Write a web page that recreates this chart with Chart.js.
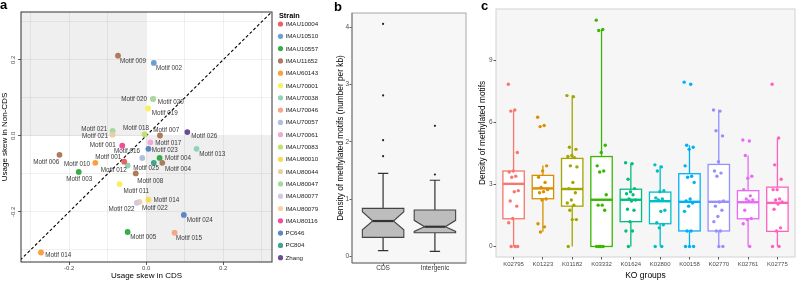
<!DOCTYPE html>
<html><head><meta charset="utf-8">
<script src="https://cdn.jsdelivr.net/npm/chart.js@4.4.1/dist/chart.umd.min.js"></script>
<style>
html,body{margin:0;padding:0;background:#fff;width:799px;height:281px;overflow:hidden;}
.wrap{position:absolute;top:0;height:281px;}
canvas{display:block;}
.tag{position:absolute;font-weight:bold;font-size:13px;line-height:13px;color:#000;font-family:"Liberation Sans",Arial,sans-serif;}
</style></head><body>
<div class="wrap" style="left:0;width:330px"><canvas id="ca" width="330" height="281"></canvas></div>
<div class="wrap" style="left:330px;width:140px"><canvas id="cb" width="140" height="281"></canvas></div>
<div class="wrap" style="left:470px;width:329px"><canvas id="cc" width="329" height="281"></canvas></div>
<div class="tag" style="left:0px;top:-2px">a</div>
<div class="tag" style="left:334px;top:0px">b</div>
<div class="tag" style="left:481px;top:-1px">c</div>
<script>
// ---------------- Panel a data ----------------
const strains = ['IMAU10004','IMAU10510','IMAU10557','IMAU11652','IMAU60143','IMAU70001','IMAU70038','IMAU70046','IMAU70057','IMAU70061','IMAU70083','IMAU80010','IMAU80044','IMAU80047','IMAU80077','IMAU80079','IMAU80116','PC646','PC804','Zhang'];
const strainColors = ['#e9625c','#6c9fd2','#3aab4b','#b07a5c','#f9a03f','#f9f05d','#8fd3b8','#f7a789','#aebfe0','#f1a8d6','#bde26e','#f9da55','#e8cfa5','#a5d99d','#d4c6e4','#fbcfa1','#ee4e9d','#5c86c6','#3da889','#6d4a92'];
const motifNames = ['Motif 009','Motif 002','Motif 020','Motif 020','Motif 019','Motif 021','Motif 021','Motif 018','Motif 007','Motif 026','Motif 001','Motif 017','Motif 016','Motif 023','Motif 004','Motif 004','Motif 025','Motif 013','Motif 006','Motif 010','Motif 001','Motif 012','Motif 003','Motif 008','Motif 011','Motif 014','Motif 022','Motif 022','Motif 024','Motif 005','Motif 015','Motif 014'];
const motifStrain = ['IMAU11652','IMAU10510','IMAU80047','IMAU80079','IMAU70001','IMAU80047','IMAU80044','IMAU70083','IMAU11652','Zhang','IMAU80116','IMAU70061','IMAU70057','PC646','IMAU10557','IMAU11652','PC804','IMAU70038','IMAU11652','IMAU60143','IMAU10004','IMAU70038','IMAU10557','IMAU11652','IMAU70001','IMAU80010','IMAU80077','IMAU80079','PC646','IMAU10557','IMAU70046','IMAU60143'];
const skewCDS = [-0.073,0.020,0.018,0.018,0.005,-0.087,-0.087,-0.004,0.036,0.107,-0.062,0.011,-0.010,0.006,0.035,0.042,0.020,0.131,-0.225,-0.132,-0.057,-0.048,-0.175,-0.027,-0.069,0.006,-0.024,-0.017,0.098,-0.048,0.074,-0.273];
const skewNonCDS = [0.211,0.192,0.097,0.097,0.072,0.013,0.003,0.004,0.001,0.010,-0.026,-0.017,-0.058,-0.034,-0.058,-0.071,-0.071,-0.034,-0.050,-0.071,-0.068,-0.078,-0.095,-0.099,-0.127,-0.168,-0.176,-0.174,-0.208,-0.253,-0.255,-0.307];
// label placement (pixel nudge from the point, text alignment)
const labelNudge = [[2,5.3,'left'],[2.3,5.7,'left'],[-6,0.3,'right'],[4.7,3,'left'],[3.7,4.3,'left'],[-5.4,-1.7,'right'],[-4.7,1.7,'right'],[4.4,-6,'right'],[-6.7,-5.7,'left'],[4,4.4,'left'],[-6.6,0,'right'],[5,1.4,'left'],[-2.3,-7,'right'],[3.4,1.7,'left'],[5.4,0,'left'],[2.7,6.3,'left'],[5.3,5.7,'right'],[2.7,5.3,'left'],[-0.3,7.3,'right'],[-5.3,1.3,'right'],[-3,-4.7,'right'],[-1,4.6,'right'],[0.5,7.3,'center'],[1.6,7.6,'left'],[4,6.7,'left'],[5,0.3,'left'],[-2.4,7,'right'],[2.4,6.4,'left'],[3,5,'left'],[2.6,5.4,'left'],[1.4,5.7,'left'],[4.3,3,'left']];
const aTicks = [-0.3,-0.2,-0.1,0,0.1,0.2,0.3];

// ---------------- Panel b data ----------------
const bGroups = ['CDS','Intergenic'];
const bWhiskerLow = [0.10,0.087];
const bQ1 = [0.332,0.414];
const bNotchLow = [0.466,0.436];
const bMedian = [0.618,0.518];
const bNotchHigh = [0.78,0.63];
const bQ3 = [0.838,0.81];
const bWhiskerHigh = [1.45,1.33];
const cdsOutliers = [1.75,2.03,2.81,4.06];
const intergenicOutliers = [1.43,2.28];
const bYTicks = [0,1,2,3,4];

// ---------------- Panel c data ----------------
const koGroups = ['K02795','K01223','K01182','K03332','K01624','K02800','K00158','K02770','K02761','K02775'];
const koColors = ['#F8766D','#D89000','#A3A500','#39B600','#00BF7D','#00BFC4','#00B0F6','#9590FF','#E76BF3','#FF62BC'];
const koQ1 = [1.34,2.31,1.95,0,1.2,1.1,0.75,0.75,1.34,0.73];
const koMedian = [3.03,2.81,2.78,2.26,2.26,2.19,2.16,2.16,2.14,2.11];
const koQ3 = [3.65,3.44,4.26,4.35,2.77,2.63,3.52,3.97,2.7,2.87];
const koWhiskerLow = [0,0.71,0,0,0,0,0,0,0,0];
const koWhiskerHigh = [6.58,3.92,7.3,10.5,4.02,3.92,4.9,6.62,4.4,5.24];
const K02795 = [7.85,6.6,6.55,4.55,3.65,3.6,3.4,3.35,2.7,2.65,2.2,1.95,1.35,1.15,0,0,0];
const K01223 = [6.25,5.85,5.8,3.9,3.65,3.35,3.1,2.85,2.75,2.65,2.6,2.3,2.25,1.1,0.95,0.7];
const K01182 = [7.3,7.25,4.8,4.7,4.4,4.35,4.3,3.9,3.85,3.1,2.8,2.6,2.25,2.1,2.0,1.75,1.3,1.3,0];
const K03332 = [10.95,10.5,10.45,4.9,4.55,3.9,3.65,3.6,2.5,2.0,2.0,1.75,0,0,0,0];
const K01624 = [4.05,4.0,3.25,2.8,2.65,2.55,2.5,2.3,2.25,2.2,1.8,1.75,1.2,0.75,0.75,0];
const K02800 = [3.95,3.85,3.65,2.7,2.65,2.35,2.3,2.25,1.75,1.7,1.15,1.05,0.9,0,0];
const K00158 = [7.95,7.85,4.9,4.8,4.7,3.9,3.4,3.35,3.1,2.3,2.2,2.1,1.95,1.7,0.75,0.75,0,0,0];
const K02770 = [6.6,6.55,5.6,5.35,4.1,3.65,3.55,3.4,2.2,2.15,1.95,1.75,1.45,1.2,0.75,0.75,0,0];
const K02761 = [5.15,5.1,4.4,3.4,3.3,2.75,2.45,2.3,2.25,2.2,1.75,1.35,1.3,1.1,0];
const K02775 = [7.85,5.25,3.95,3.25,2.75,2.75,2.3,2.25,2.15,2.05,1.8,0.9,0.75,0,0];
const koPoints = [K02795,K01223,K01182,K03332,K01624,K02800,K00158,K02770,K02761,K02775];
const cYTicks = [0,3,6,9];

// ---------------- common ----------------
const FONT = '"Liberation Sans", Arial, sans-serif';
Chart.defaults.font.family = FONT;
Chart.defaults.animation = false;
Chart.defaults.responsive = false;
Chart.defaults.devicePixelRatio = 1;
Chart.defaults.events = [];
Chart.defaults.plugins.legend.display = false;
Chart.defaults.plugins.tooltip.enabled = false;
const TICKCOL = '#4d4d4d';
const isMajor = v => Math.abs(Math.round(v*10)) % 2 === 0;
const setTicks = arr => (s => { s.ticks = arr.map(v => ({value: v})); });

// ================= Panel a =================
const aDatasets = strains.map((s, si) => ({
  type: 'scatter',
  label: s,
  isStrain: true,
  data: motifNames.map((m, i) => ({x: skewCDS[i], y: skewNonCDS[i], i})).filter(p => motifStrain[p.i] === s),
  backgroundColor: strainColors[si],
  borderWidth: 0,
  pointRadius: 2.9,
  pointHoverRadius: 2.9
}));
aDatasets.push({
  type: 'line', label: 'y = x', order: 10,
  data: [{x: -1, y: -1}, {x: 1, y: 1}],
  borderColor: '#000', borderWidth: 1.1, borderDash: [3, 2.2],
  pointRadius: 0, fill: false
});

const aPlugin = {
  id: 'aDecor',
  beforeDraw(chart) {
    const {ctx, chartArea: ca, scales: {x, y}} = chart;
    const x0 = x.getPixelForValue(0), y0 = y.getPixelForValue(0);
    ctx.save();
    ctx.fillStyle = '#ffffff';
    ctx.fillRect(ca.left, ca.top, ca.width, ca.height);
    ctx.fillStyle = '#efefef';
    ctx.fillRect(ca.left, ca.top, x0 - ca.left, y0 - ca.top);
    ctx.fillRect(x0, y0, ca.right - x0, ca.bottom - y0);
    ctx.restore();
  },
  afterDatasetsDraw(chart) {
    const ctx = chart.ctx;
    ctx.save();
    ctx.font = '6.3px ' + FONT;
    ctx.fillStyle = '#3a3a3a';
    ctx.textBaseline = 'middle';
    chart.data.datasets.forEach((ds, di) => {
      if (!ds.isStrain) return;
      const meta = chart.getDatasetMeta(di);
      meta.data.forEach((el, j) => {
        const i = ds.data[j].i;
        const n = labelNudge[i];
        ctx.textAlign = n[2];
        ctx.fillText(motifNames[i], el.x + n[0], el.y + n[1]);
      });
    });
    ctx.restore();
  },
  afterDraw(chart) {
    const {ctx, chartArea: ca, scales: {y}} = chart;
    ctx.save();
    ctx.strokeStyle = '#333';
    ctx.lineWidth = 1;
    ctx.strokeRect(ca.left, ca.top, ca.width, ca.height);
    ctx.font = '6px ' + FONT;
    ctx.fillStyle = TICKCOL;
    ctx.textAlign = 'center';
    ctx.textBaseline = 'middle';
    y.ticks.forEach(t => {
      if (!isMajor(t.value)) return;
      const py = y.getPixelForValue(t.value);
      ctx.save();
      ctx.translate(13.5, py);
      ctx.rotate(-Math.PI / 2);
      ctx.fillText((Math.round(t.value * 10) / 10).toFixed(1), 0, 0);
      ctx.restore();
    });
    const lx = ca.right + 7;
    ctx.textAlign = 'left';
    ctx.fillStyle = '#000';
    ctx.font = 'bold 7.3px ' + FONT;
    ctx.fillText('Strain', lx, 16.3);
    ctx.font = '6.2px ' + FONT;
    strains.forEach((s, si) => {
      const cy = 24 + si * 12.3;
      ctx.fillStyle = strainColors[si];
      ctx.beginPath();
      ctx.arc(lx + 1.5, cy, 2.6, 0, Math.PI * 2);
      ctx.fill();
      ctx.fillStyle = '#222';
      ctx.fillText(s, lx + 6.5, cy + 0.3);
    });
    ctx.restore();
  }
};

new Chart(document.getElementById('ca'), {
  type: 'scatter',
  data: {datasets: aDatasets},
  options: {
    layout: {padding: {left: 0, top: 12, right: 58, bottom: 0}},
    scales: {
      x: {
        type: 'linear', min: -0.325, max: 0.327,
        afterFit: s => { s.height = 19; },
        afterBuildTicks: setTicks(aTicks),
        border: {display: false},
        grid: {color: 'rgba(0,0,0,0.075)', lineWidth: 0.8, tickLength: 3, tickWidth: 0.8,
               tickColor: c => (c.tick && isMajor(c.tick.value)) ? '#333' : 'rgba(0,0,0,0)'},
        ticks: {autoSkip: false, maxRotation: 0, padding: 0,
                color: TICKCOL, font: {size: 6, lineHeight: 1},
                callback: v => isMajor(v) ? (Math.round(v * 10) / 10).toFixed(1) : ''},
        title: {display: true, text: 'Usage skew in CDS', color: '#000', font: {size: 8}, padding: {top: 0, bottom: 0.5}}
      },
      y: {
        type: 'linear', min: -0.332, max: 0.326,
        afterFit: s => { s.width = 21; },
        afterBuildTicks: setTicks(aTicks),
        border: {display: false},
        grid: {color: 'rgba(0,0,0,0.075)', lineWidth: 0.8, tickLength: 3, tickWidth: 0.8,
               tickColor: c => (c.tick && isMajor(c.tick.value)) ? '#333' : 'rgba(0,0,0,0)'},
        ticks: {display: false},
        title: {display: true, text: 'Usage skew in Non-CDS', color: '#000', font: {size: 8}, padding: {top: 0.3, bottom: 0}}
      }
    }
  },
  plugins: [aPlugin]
});

// ================= Panel b =================
const bPlugin = {
  id: 'bBoxes',
  beforeDraw(chart) {
    const {ctx, chartArea: ca} = chart;
    ctx.save();
    ctx.fillStyle = '#f7f7f7';
    ctx.fillRect(ca.left, ca.top, ca.width, ca.height);
    ctx.restore();
  },
  beforeDatasetsDraw(chart) {
    const {ctx, scales: {x, y}} = chart;
    ctx.save();
    bGroups.forEach((g, gi) => {
      const c = gi + 1;
      const xl = x.getPixelForValue(c - 0.4), xr = x.getPixelForValue(c + 0.4);
      const nl = x.getPixelForValue(c - 0.2), nr = x.getPixelForValue(c + 0.2);
      const capL = x.getPixelForValue(c - 0.1), capR = x.getPixelForValue(c + 0.1);
      const xc = x.getPixelForValue(c);
      const pQ1 = y.getPixelForValue(bQ1[gi]), pQ3 = y.getPixelForValue(bQ3[gi]);
      const pNL = y.getPixelForValue(bNotchLow[gi]), pNH = y.getPixelForValue(bNotchHigh[gi]);
      const pM = y.getPixelForValue(bMedian[gi]);
      const pWL = y.getPixelForValue(bWhiskerLow[gi]), pWH = y.getPixelForValue(bWhiskerHigh[gi]);
      ctx.strokeStyle = '#333';
      ctx.lineWidth = 1.2;
      ctx.beginPath();
      ctx.moveTo(xc, pQ3); ctx.lineTo(xc, pWH);
      ctx.moveTo(xc, pQ1); ctx.lineTo(xc, pWL);
      ctx.moveTo(capL, pWH); ctx.lineTo(capR, pWH);
      ctx.moveTo(capL, pWL); ctx.lineTo(capR, pWL);
      ctx.stroke();
      ctx.beginPath();
      ctx.moveTo(xl, pQ3); ctx.lineTo(xr, pQ3); ctx.lineTo(xr, pNH); ctx.lineTo(nr, pM);
      ctx.lineTo(xr, pNL); ctx.lineTo(xr, pQ1); ctx.lineTo(xl, pQ1); ctx.lineTo(xl, pNL);
      ctx.lineTo(nl, pM); ctx.lineTo(xl, pNH); ctx.closePath();
      ctx.fillStyle = '#bdbdbd';
      ctx.fill();
      ctx.strokeStyle = '#444';
      ctx.lineWidth = 1.1;
      ctx.stroke();
      ctx.beginPath();
      ctx.moveTo(nl, pM); ctx.lineTo(nr, pM);
      ctx.strokeStyle = '#333';
      ctx.lineWidth = 2.2;
      ctx.stroke();
    });
    ctx.restore();
  },
  afterDraw(chart) {
    const {ctx, chartArea: ca} = chart;
    ctx.save();
    ctx.strokeStyle = '#a8a8a8';
    ctx.lineWidth = 1;
    ctx.strokeRect(ca.left, ca.top, ca.width, ca.height);
    ctx.strokeStyle = '#777';
    ctx.beginPath();
    ctx.moveTo(ca.left, ca.top); ctx.lineTo(ca.left, ca.bottom); ctx.lineTo(ca.right, ca.bottom);
    ctx.stroke();
    ctx.restore();
  }
};

new Chart(document.getElementById('cb'), {
  type: 'scatter',
  data: {datasets: [{
    label: 'outliers',
    data: cdsOutliers.map(v => ({x: 1, y: v})).concat(intergenicOutliers.map(v => ({x: 2, y: v}))),
    backgroundColor: '#222', borderWidth: 0, pointRadius: 1.1
  }]},
  options: {
    layout: {padding: {left: 0, top: 13, right: 1, bottom: 0}},
    scales: {
      x: {
        type: 'linear', min: 0.4, max: 2.6,
        afterFit: s => { s.height = 18; },
        afterBuildTicks: setTicks([1, 2]),
        border: {display: false},
        grid: {drawOnChartArea: false, tickLength: 2.5, tickColor: '#333', tickWidth: 0.8},
        ticks: {autoSkip: false, maxRotation: 0, padding: -0.3,
                color: '#333', font: {size: 6.5, lineHeight: 1}, callback: v => bGroups[v - 1] || ''}
      },
      y: {
        type: 'linear', min: -0.115, max: 4.25,
        afterFit: s => { s.width = 22; },
        afterBuildTicks: setTicks(bYTicks),
        border: {display: false},
        grid: {drawOnChartArea: false, tickLength: 2.5, tickColor: '#333', tickWidth: 0.8},
        ticks: {padding: 0.5, color: TICKCOL, font: {size: 6.5, lineHeight: 1}, callback: v => String(v)},
        title: {display: true, text: 'Density of methylated motifs (number per kb)', color: '#000',
                font: {size: 8.3}, padding: {top: 5.7, bottom: 0}}
      }
    }
  },
  plugins: [bPlugin]
});

// ================= Panel c =================
const cDatasets = koGroups.map((g, gi) => ({
  label: g,
  data: koPoints[gi].map((v, k) => ({x: gi + 1 + (((k * 0.618034) % 1) - 0.5) * 0.36, y: v})),
  backgroundColor: koColors[gi], borderWidth: 0, pointRadius: 1.7
}));

const cPlugin = {
  id: 'cBoxes',
  beforeDraw(chart) {
    const {ctx, chartArea: ca} = chart;
    ctx.save();
    ctx.fillStyle = '#f6f6f6';
    ctx.fillRect(ca.left, ca.top, ca.width, ca.height);
    ctx.strokeStyle = '#d2d2d2';
    ctx.lineWidth = 1;
    ctx.strokeRect(ca.left, ca.top, ca.width, ca.height);
    ctx.restore();
  },
  beforeDatasetsDraw(chart) {
    const {ctx, scales: {x, y}} = chart;
    ctx.save();
    koGroups.forEach((g, gi) => {
      const c = gi + 1;
      const xl = x.getPixelForValue(c - 0.365), xr = x.getPixelForValue(c + 0.365);
      const xc = x.getPixelForValue(c);
      const pQ1 = y.getPixelForValue(koQ1[gi]), pQ3 = y.getPixelForValue(koQ3[gi]);
      const pM = y.getPixelForValue(koMedian[gi]);
      const pWL = y.getPixelForValue(koWhiskerLow[gi]), pWH = y.getPixelForValue(koWhiskerHigh[gi]);
      ctx.strokeStyle = koColors[gi];
      ctx.lineWidth = 1.3;
      ctx.beginPath();
      ctx.moveTo(xc, pQ3); ctx.lineTo(xc, pWH);
      ctx.moveTo(xc, pQ1); ctx.lineTo(xc, pWL);
      ctx.stroke();
      ctx.fillStyle = '#ffffff';
      ctx.fillRect(xl, pQ3, xr - xl, pQ1 - pQ3);
      ctx.strokeRect(xl, pQ3, xr - xl, pQ1 - pQ3);
      ctx.lineWidth = 2.4;
      ctx.beginPath();
      ctx.moveTo(xl, pM); ctx.lineTo(xr, pM);
      ctx.stroke();
    });
    ctx.restore();
  }
};

new Chart(document.getElementById('cc'), {
  type: 'scatter',
  data: {datasets: cDatasets},
  options: {
    layout: {padding: {left: 0, top: 9, right: 0, bottom: 0}},
    scales: {
      x: {
        type: 'linear', min: 0.4, max: 10.6,
        afterFit: s => { s.height = 24; },
        afterBuildTicks: setTicks(koGroups.map((g, i) => i + 1)),
        border: {display: false},
        grid: {drawOnChartArea: false, tickLength: 2.5, tickColor: '#333', tickWidth: 0.8},
        ticks: {autoSkip: false, maxRotation: 0, padding: 1.8,
                color: TICKCOL, font: {size: 6, lineHeight: 1}, callback: v => koGroups[v - 1] || ''},
        title: {display: true, text: 'KO groups', color: '#000', font: {size: 8.5}, padding: {top: 0, bottom: 0}}
      },
      y: {
        type: 'linear', min: -0.51, max: 11.49,
        afterFit: s => { s.width = 26; },
        afterBuildTicks: setTicks(cYTicks),
        border: {display: false},
        grid: {drawOnChartArea: false, tickLength: 2.5, tickColor: '#333', tickWidth: 0.8},
        ticks: {padding: 1, color: TICKCOL, font: {size: 6.5, lineHeight: 1}, callback: v => String(v)},
        title: {display: true, text: 'Density of methylated motifs', color: '#000',
                font: {size: 8.3}, padding: {top: 7.7, bottom: 0}}
      }
    }
  },
  plugins: [cPlugin]
});
</script>
</body></html>
